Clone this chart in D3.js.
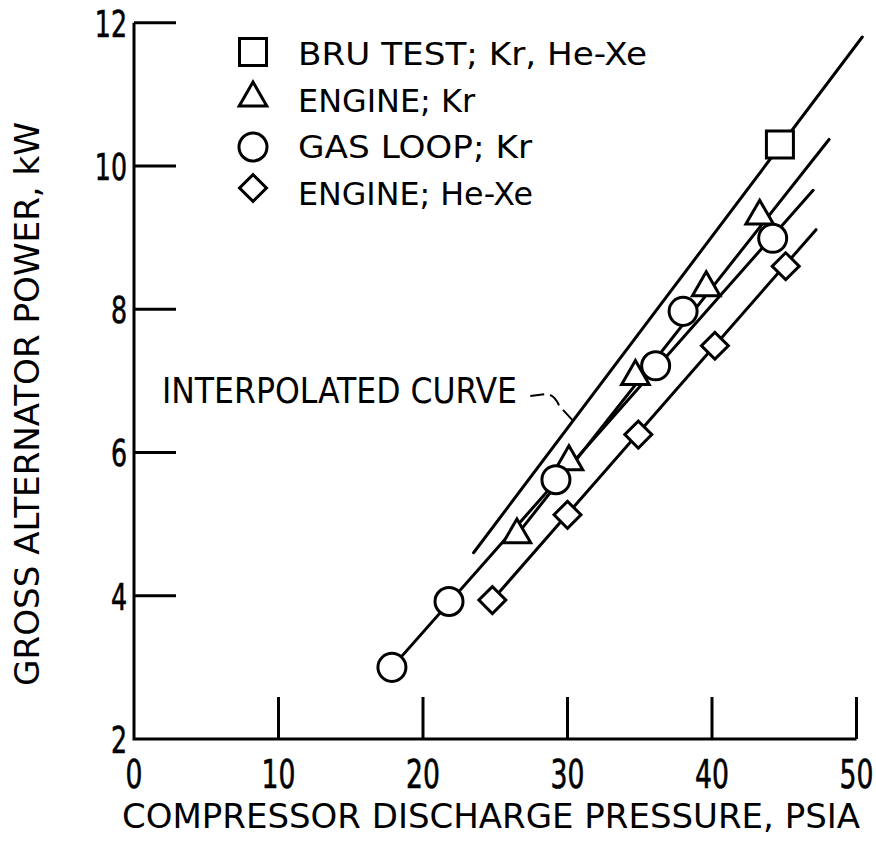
<!DOCTYPE html>
<html>
<head>
<meta charset="utf-8">
<script src="https://cdn.jsdelivr.net/npm/d3@7"></script>
<style>
  body { margin: 0; background: #fff; }
  text { font-family: "Liberation Sans Narrow", "DejaVu Sans Condensed", "Roboto Condensed", sans-serif; fill: #000; }
</style>
</head>
<body>
<div id="chart"></div>
<script>
const xTicks = [10, 20, 30, 40, 50];
const xTickLabels = [0, 10, 20, 30, 40, 50];
const yTicks = [4, 6, 8, 10, 12];
const yTickLabels = [2, 4, 6, 8, 10, 12];

// measured points
const bruPts = [[44.7, 10.3]];
const engineKrPts = [[26.5, 4.85], [30.1, 5.87], [34.7, 7.06], [39.6, 8.3], [43.3, 9.3]];
const gasLoopPts = [[17.85, 3.0], [21.8, 3.92], [29.2, 5.62], [36.1, 7.21], [38.0, 7.97], [44.2, 8.99]];
const engineHeXePts = [[24.8, 3.94], [30.0, 5.13], [34.9, 6.25], [40.2, 7.49], [45.1, 8.6]];

// faired lines (end points)
const bruCurve = [[23.5, 4.6], [50.4, 11.8]];
const engineKrCurve = [[26.5, 4.85], [48.1, 10.37]];
const gasLoopCurve = [[17.85, 3.0], [47.0, 9.66]];
const engineHeXeCurve = [[24.8, 3.94], [47.2, 9.11]];

const legendLabels = ["BRU TEST; Kr, He-Xe", "ENGINE; Kr", "GAS LOOP; Kr", "ENGINE; He-Xe"];
const legendWidths = [349, 177, 234, 235];

const width = 876, height = 843;

const x = d3.scaleLinear().domain([0, 50]).range([134, 856.5]);
const y = d3.scaleLinear().domain([2, 12]).range([739, 22.7]);

const svg = d3.select("#chart").append("svg")
    .attr("width", width)
    .attr("height", height);

const sw = 3;

// axes
svg.append("path")
    .attr("d", `M${x(0)},${y(12)}V${y(2)}H${x(50)}`)
    .attr("fill", "none")
    .attr("stroke", "#000")
    .attr("stroke-width", sw);

svg.append("g").selectAll("line")
  .data(yTicks)
  .enter().append("line")
    .attr("x1", x(0)).attr("x2", x(0) + 42)
    .attr("y1", d => y(d)).attr("y2", d => y(d))
    .attr("stroke", "#000").attr("stroke-width", sw);

svg.append("g").selectAll("line")
  .data(xTicks)
  .enter().append("line")
    .attr("x1", d => x(d)).attr("x2", d => x(d))
    .attr("y1", y(2)).attr("y2", y(2) - 42)
    .attr("stroke", "#000").attr("stroke-width", sw);

// tick labels, squeezed to a condensed look
svg.append("g").selectAll("text")
  .data(yTickLabels)
  .enter().append("text")
    .attr("transform", d => `translate(${x(0) - 7},${y(d) + 14}) scale(0.74,1)`)
    .attr("text-anchor", "end")
    .attr("font-size", 38)
    .attr("stroke", "#000").attr("stroke-width", 0.6)
    .text(d => d);

svg.append("g").selectAll("text")
  .data(xTickLabels)
  .enter().append("text")
    .attr("transform", d => `translate(${x(d)},788) scale(0.76,1)`)
    .attr("text-anchor", "middle")
    .attr("font-size", 39)
    .attr("stroke", "#000").attr("stroke-width", 0.6)
    .text(d => d);

svg.append("text")
    .attr("x", 122).attr("y", 828)
    .attr("font-size", 33)
    .attr("textLength", 738)
    .attr("lengthAdjust", "spacingAndGlyphs")
    .text("COMPRESSOR DISCHARGE PRESSURE, PSIA");

svg.append("text")
    .attr("transform", "translate(39,686) rotate(-90)")
    .attr("font-size", 33)
    .attr("textLength", 564)
    .attr("lengthAdjust", "spacingAndGlyphs")
    .text("GROSS ALTERNATOR POWER, kW");

// lines
const line = d3.line().x(d => x(d[0])).y(d => y(d[1]));
svg.append("g")
    .attr("fill", "none")
    .attr("stroke", "#000")
    .attr("stroke-width", sw)
    .attr("stroke-linecap", "round")
  .selectAll("path")
  .data([bruCurve, engineKrCurve, gasLoopCurve, engineHeXeCurve])
  .enter().append("path")
    .attr("d", line);

// markers
const shapes = [
  {sym: d3.symbolSquare, size: 729, rot: 0},
  {sym: d3.symbolTriangle, size: 330, rot: 0},
  {sym: d3.symbolCircle, size: 616, rot: 0},
  {sym: d3.symbolSquare, size: 364, rot: 45}
];

function marker(g, k, px, py) {
  g.append("path")
      .attr("d", d3.symbol().type(shapes[k].sym).size(shapes[k].size)())
      .attr("transform", `translate(${px},${py}) rotate(${shapes[k].rot})`)
      .attr("fill", "#fff")
      .attr("stroke", "#000")
      .attr("stroke-width", sw);
}

const marks = svg.append("g");
[bruPts, engineKrPts, gasLoopPts, engineHeXePts].forEach((pts, k) => {
  pts.forEach(p => marker(marks, k, x(p[0]), y(p[1])));
});

// legend
const legend = svg.append("g");
const legendY = [52, 98, 147, 188];
legendLabels.forEach((t, i) => {
  marker(legend, i, 253, legendY[i]);
  legend.append("text")
      .attr("x", 298)
      .attr("y", 65 + i * 46.7)
      .attr("font-size", 32)
      .attr("textLength", legendWidths[i])
      .attr("lengthAdjust", "spacingAndGlyphs")
      .text(t);
});

// annotation
svg.append("text")
    .attr("x", 162).attr("y", 403)
    .attr("font-size", 36)
    .attr("textLength", 355)
    .attr("lengthAdjust", "spacingAndGlyphs")
    .text("INTERPOLATED CURVE");

const ax = x(30.4), ay = y(6.44);
svg.append("path")
    .attr("d", `M${ax - 43},${ay - 25} L${ax - 26},${ay - 27} Q${ax - 18},${ay - 25} ${ax - 14},${ay - 15} L${ax},${ay}`)
    .attr("fill", "none")
    .attr("stroke", "#000")
    .attr("stroke-width", 2)
    .attr("stroke-dasharray", "14,6");
</script>
</body>
</html>
